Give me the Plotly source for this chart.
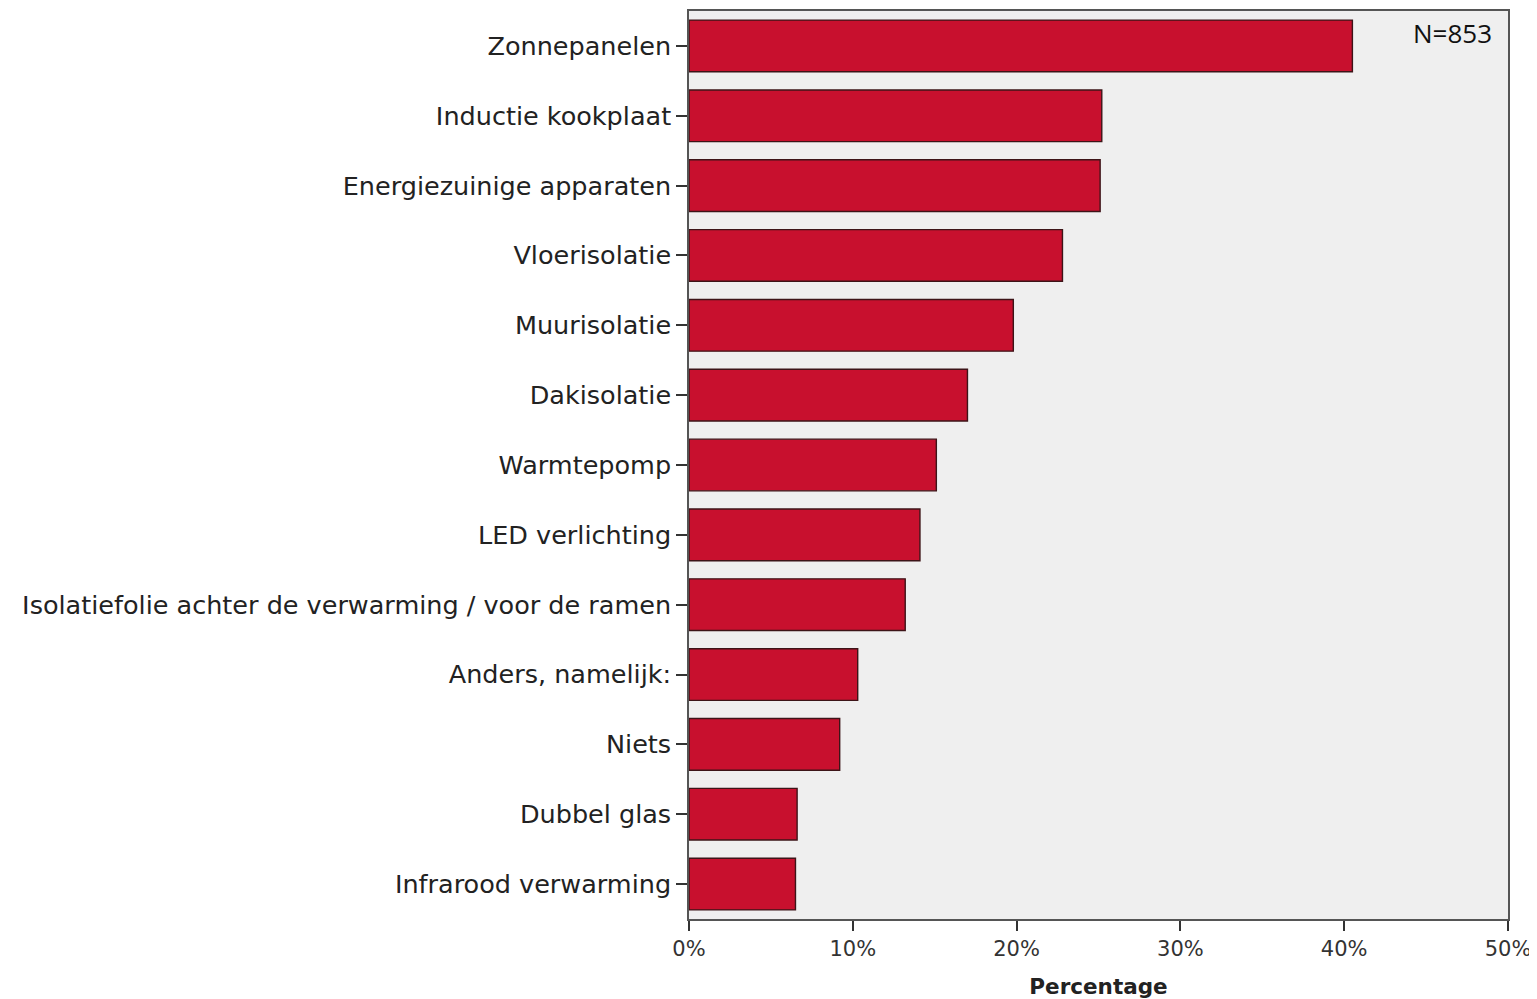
import plotly.graph_objects as go

# categories top-to-bottom as shown
categories = [
    "Zonnepanelen",
    "Inductie kookplaat",
    "Energiezuinige apparaten",
    "Vloerisolatie",
    "Muurisolatie",
    "Dakisolatie",
    "Warmtepomp",
    "LED verlichting",
    "Isolatiefolie achter de verwarming / voor de ramen",
    "Anders, namelijk:",
    "Niets",
    "Dubbel glas",
    "Infrarood verwarming",
]
percentages = [40.5, 25.2, 25.1, 22.8, 19.8, 17.0, 15.1, 14.1, 13.2, 10.3, 9.2, 6.6, 6.5]
x_ticks = [0, 10, 20, 30, 40, 50]
x_tick_labels = ["0%", "10%", "20%", "30%", "40%", "50%"]
sample_note = "N=853"

fig = go.Figure(
    go.Bar(
        x=percentages,
        y=categories,
        orientation="h",
        marker=dict(color="#c8102e", line=dict(color="#3d1418", width=1.4)),
        hoverinfo="x+y",
    )
)

# page body has an 8px margin, so the figure is shifted by 8px
fig.update_layout(
    width=1529,
    height=991,
    margin=dict(l=681, r=29, t=1, b=80),
    paper_bgcolor="white",
    plot_bgcolor="#efefef",
    bargap=0.26,
    showlegend=False,
    font=dict(family="DejaVu Sans", size=22, color="#222"),
)

fig.update_xaxes(
    range=[0, 50],
    tickvals=x_ticks,
    ticktext=x_tick_labels,
    ticks="outside",
    ticklen=10,
    tickwidth=1.5,
    tickcolor="#333",
    showgrid=False,
    zeroline=False,
    showline=True,
    linecolor="#555",
    linewidth=1.5,
    mirror=True,
    tickfont=dict(size=21, color="#333"),
    title=dict(text="<b>Percentage</b>", font=dict(size=21.5, color="#222"), standoff=19),
)

fig.update_yaxes(
    categoryorder="array",
    categoryarray=categories[::-1],
    range=[-0.5, len(categories) - 0.5],
    ticks="outside",
    ticklen=11,
    tickwidth=1.5,
    tickcolor="#333",
    showgrid=False,
    showline=True,
    linecolor="#555",
    linewidth=1.5,
    mirror=True,
    tickfont=dict(size=25.5, color="#222"),
)

fig.add_annotation(
    xref="paper", yref="paper",
    x=0.9835, y=0.9975,
    xanchor="right", yanchor="top",
    text=sample_note,
    showarrow=False,
    font=dict(family="Open Sans", size=26, color="#111"),
)

fig.write_html("out.html")
